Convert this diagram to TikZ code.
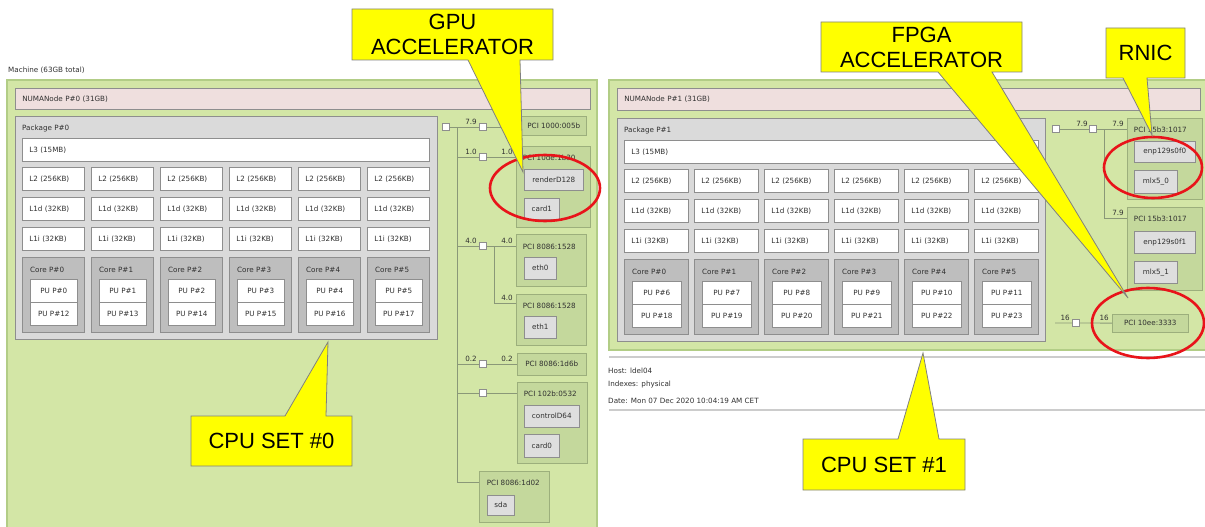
\documentclass[tikz,border=0pt]{standalone}
\usepackage{fontspec}
\usetikzlibrary{positioning,fit}
\newfontfamily\hwfamily{DejaVu Sans}
\newfontfamily\callfamily{Liberation Sans}
\definecolor{machgreen}{HTML}{D3E6A6}
\definecolor{machedge}{HTML}{B2CD86}
\definecolor{numapink}{HTML}{EFDFDE}
\definecolor{pkggray}{HTML}{DADADA}
\definecolor{coregray}{HTML}{BEBEBE}
\definecolor{pcigreen}{HTML}{C4D89C}
\definecolor{pciedge}{HTML}{9CAF7C}
\definecolor{osgray}{HTML}{DEDEDE}
\definecolor{hwedge}{HTML}{8E8E8E}
\definecolor{hwtext}{HTML}{303030}
\definecolor{linkcol}{HTML}{8A9878}
\definecolor{calloutyellow}{HTML}{FFFF00}
\definecolor{ringred}{HTML}{E8141A}
\tikzset{%
    hwfont/.style={font=\hwfamily\fontsize{7.2}{8.6}\selectfont, text=hwtext},
    hwbox/.style={draw=hwedge, line width=0.6pt, inner sep=0pt, hwfont},
    hwlabel/.style={hwfont, inner sep=0pt, anchor=west},
    machine/.style={hwbox, draw=machedge, line width=1.4pt, fill=machgreen},
    numa/.style={hwbox, fill=numapink, anchor=north west, inner xsep=7pt, text width=#1, align=left},
    pkgbox/.style={hwbox, fill=pkggray, anchor=north west},
    cache/.style={hwbox, fill=white, anchor=north west, minimum height=23pt, inner xsep=7pt, text width=#1, align=left},
    corebox/.style={hwbox, fill=coregray, anchor=north west},
    pubox/.style={hwbox, fill=white, anchor=north west, minimum height=22.5pt},
    bridge/.style={hwbox, fill=white, minimum size=6.5pt},
    pcibox/.style={hwbox, draw=pciedge, fill=pcigreen, anchor=north west},
    pcigrp/.style={hwbox, draw=pciedge, fill=pcigreen},
    osdev/.style={hwbox, fill=osgray, anchor=north west, minimum height=21pt},
    link/.style={draw=linkcol, line width=0.8pt},
    speed/.style={hwfont, inner sep=0pt, anchor=south east},
    sepline/.style={draw=black!20, line width=1.6pt},
    ring/.style={draw=ringred, line width=2.6pt},
    callout/.style={fill=calloutyellow, draw=black!50, line width=0.8pt, line join=miter},
    calltext/.style={font=\callfamily\fontsize{22}{25}\selectfont, align=center, inner sep=0pt, text=black}
}
% #1 prefix, #2 x, #3 y, #4 pitch, #5 cache width, #6 package, #7 first PU
\newcommand{\cpupackage}[7]{%
    \pgfmathsetmacro\pkgw{6*#4+8}
    \pgfmathsetmacro\lthreetw{5*#4+#5-14}
    \pgfmathsetmacro\cachetw{#5-14}
    \pgfmathsetmacro\puw{#5-15}
    \begin{scope}[shift={(#2,#3)}]
        \node[pkgbox, minimum width=\pkgw pt, minimum height=223pt] (#1pkg) at (0,0) {};
        \node[hwlabel] (#1pkglbl) at (7,13) {Package P\##6};
        \node[cache=\lthreetw pt] (#1lthree) at (7,22) {L3 (15MB)};
        \foreach \i in {0,...,5} {
            \pgfmathsetmacro\cx{7+#4*\i}
            \pgfmathtruncatemacro\pua{#7+\i}
            \pgfmathtruncatemacro\pub{#7+\i+12}
            \node[cache=\cachetw pt] (#1ltwo\i) at (\cx,51) {L2 (256KB)};
            \node[cache=\cachetw pt] (#1loned\i) at (\cx,81) {L1d (32KB)};
            \node[cache=\cachetw pt] (#1lonei\i) at (\cx,111) {L1i (32KB)};
            \node[corebox, minimum width=#5pt, minimum height=75pt] (#1core\i) at (\cx,141) {};
            \node[hwlabel] (#1corelbl\i) at ([xshift=8pt,yshift=-13pt]#1core\i.north west) {Core P\#\i};
            \node[pubox, minimum width=\puw pt] (#1pua\i) at (\cx+8,163) {PU P\#\pua};
            \node[pubox, minimum width=\puw pt] (#1pub\i) at (#1pua\i.south west) {PU P\#\pub};
        }
    \end{scope}
}

\begin{document}
\begin{tikzpicture}[x=1pt,y=-1pt]
\useasboundingbox (0,0) rectangle (1205,527);
\clip (0,0) rectangle (1205,527);

% machines
\node[machine, fit={(7,80) (597,560)}] (lmach) {};
\node[machine, fit={(609,80) (1215,350)}] (rmach) {};
\node[hwlabel] (machlbl) at (8,70) {Machine (63GB total)};

\node[numa=561pt, minimum height=21pt] (lnuma) at (15,88) {NUMANode P\#0 (31GB)};
\node[numa=569pt, minimum height=22pt] (rnuma) at (617,88) {NUMANode P\#1 (31GB)};

\cpupackage{l}{15}{116}{69}{62}{0}{0}
\cpupackage{r}{617}{118}{70}{64}{1}{6}

% left PCI tree
\node[bridge] (lhb) at (446,127) {};
\node[bridge] (lbr1) at (483,127) {};
\node[bridge] (lbr2) at (483,157) {};
\node[bridge] (lbr3) at (483,246) {};
\node[bridge] (lbr4) at (483,364) {};
\node[bridge] (lbr5) at (483,393) {};
\coordinate (ltrunk) at (457,127);
\coordinate (ltrunkend) at (457,482);
\coordinate (lsub) at (494,246);
\coordinate (lsubend) at (494,303);

\node[pcibox, minimum width=65pt, minimum height=19pt] (lscsi) at (521,116) {PCI 1000:005b};
\node[pcigrp, fit={(516,146) (590,227)}] (lgpu) {};
\node[hwlabel] (lgpulbl) at ([xshift=7pt,yshift=-12pt]lgpu.north west) {PCI 10de:1b30};
\node[osdev, minimum width=59pt] (lrender) at (524,169) {renderD128};
\node[osdev, minimum width=35pt] (lcardone) at (524,198) {card1};
\node[pcigrp, fit={(516,234) (586,286)}] (lethzero) {};
\node[hwlabel] (lethzerolbl) at ([xshift=7pt,yshift=-13pt]lethzero.north west) {PCI 8086:1528};
\node[osdev, minimum width=32pt, minimum height=22pt] (leth0) at (524,257) {eth0};
\node[pcigrp, fit={(516,294) (586,345)}] (lethone) {};
\node[hwlabel] (lethonelbl) at ([xshift=7pt,yshift=-12pt]lethone.north west) {PCI 8086:1528};
\node[osdev, minimum width=32pt, minimum height=22pt] (leth1) at (524,316) {eth1};
\node[pcibox, minimum width=69pt, minimum height=22pt] (lusb) at (517,353) {PCI 8086:1d6b};
\node[pcigrp, fit={(517,382) (587,463)}] (lvga) {};
\node[hwlabel] (lvgalbl) at ([xshift=7pt,yshift=-12pt]lvga.north west) {PCI 102b:0532};
\node[osdev, minimum width=55pt, minimum height=22pt] (lctrl) at (524,405) {controlD64};
\node[osdev, minimum width=35pt, minimum height=23pt] (lcardzero) at (524,434) {card0};
\node[pcigrp, fit={(479,471) (549,522)}] (lsata) {};
\node[hwlabel] (lsatalbl) at ([xshift=8pt,yshift=-12pt]lsata.north west) {PCI 8086:1d02};
\node[osdev, minimum width=27pt, minimum height=20pt] (lsda) at (487,495) {sda};

\draw[link] (lhb) -- (lbr1) -- (lbr1 -| lscsi.west);
\draw[link] (ltrunk) -- (ltrunkend) -- (ltrunkend -| lsata.west);
\draw[link] (ltrunk |- lbr2) -- (lbr2) -- (lbr2 -| lgpu.west);
\draw[link] (ltrunk |- lbr3) -- (lbr3) -- (lbr3 -| lethzero.west);
\draw[link] (lsub) -- (lsubend) -- (lsubend -| lethone.west);
\draw[link] (ltrunk |- lbr4) -- (lbr4) -- (lbr4 -| lusb.west);
\draw[link] (ltrunk |- lbr5) -- (lbr5) -- (lbr5 -| lvga.west);

\node[speed] (lspa) at (477,125) {7.9};
\node[speed] (lspb) at (477,155) {1.0};
\node[speed] (lspc) at (513,155) {1.0};
\node[speed] (lspd) at (477,244) {4.0};
\node[speed] (lspe) at (513,244) {4.0};
\node[speed] (lspf) at (513,301) {4.0};
\node[speed] (lspg) at (477,362) {0.2};
\node[speed] (lsph) at (513,362) {0.2};

% right PCI tree
\node[bridge] (rhb) at (1056,129) {};
\node[bridge] (rbr1) at (1093,129) {};
\node[bridge] (rbr2) at (1076,323) {};
\coordinate (rtrunk) at (1104,129);
\coordinate (rtrunkend) at (1104,218);
\coordinate (rfpgain) at (1055,323);

\node[pcigrp, fit={(1127,118) (1202,199)}] (rniczero) {};
\node[hwlabel] (rniczerolbl) at ([xshift=7pt,yshift=-12pt]rniczero.north west) {PCI 15b3:1017};
\node[osdev, minimum width=61pt] (renpzero) at (1134,141) {enp129s0f0};
\node[osdev, minimum width=43pt, minimum height=23pt] (rmlxzero) at (1134,170) {mlx5\_0};
\node[pcigrp, fit={(1127,207) (1202,290)}] (rnicone) {};
\node[hwlabel] (rniconelbl) at ([xshift=7pt,yshift=-12pt]rnicone.north west) {PCI 15b3:1017};
\node[osdev, minimum width=61pt, minimum height=22pt] (renpone) at (1134,231) {enp129s0f1};
\node[osdev, minimum width=43pt, minimum height=22pt] (rmlxone) at (1134,261) {mlx5\_1};
\node[pcibox, minimum width=76pt, minimum height=18pt] (rfpga) at (1112,314) {PCI 10ee:3333};

\draw[link] (rhb) -- (rbr1) -- (rbr1 -| rniczero.west);
\draw[link] (rtrunk) -- (rtrunkend) -- (rtrunkend -| rnicone.west);
\draw[link] (rfpgain) -- (rbr2) -- (rfpga);

\node[speed] (rspa) at (1088,127) {7.9};
\node[speed] (rspb) at (1124,127) {7.9};
\node[speed] (rspc) at (1124,216) {7.9};
\node[speed] (rspd) at (1070,321) {16};
\node[speed] (rspe) at (1109,321) {16};

% host info
\draw[sepline] (609,357) -- (1215,357);
\draw[sepline] (609,410) -- (1215,410);
\node[hwlabel] (host) at (608,371) {Host: ldel04};
\node[hwlabel] (idx) at (608,385) {Indexes: physical};
\node[hwlabel] (date) at (608,401) {Date: Mon 07 Dec 2020 10:04:19 AM CET};

% highlights
\draw[ring] (545,188) ellipse (55 and 33);
\draw[ring] (1153,167.5) ellipse (49 and 30.5);
\draw[ring] (1148,323) ellipse (56 and 35);

% callouts
\coordinate (gputip) at (523,172);
\coordinate (fpgatip) at (1128,298);
\coordinate (rnictip) at (1152,135);
\coordinate (cpuzerotip) at (328,342);
\coordinate (cpuonetip) at (923,353);

\draw[callout] (352,9) -- (553,9) -- (553,60) -- (520,60) -- (gputip) -- (468,60) -- (352,60) -- cycle;
\node[calltext] (gpulbl) at (452.5,34.5) {GPU\\ACCELERATOR};

\draw[callout] (821,22) -- (1022,22) -- (1022,72) -- (992,72) -- (fpgatip) -- (938,72) -- (821,72) -- cycle;
\node[calltext] (fpgalbl) at (921.5,47) {FPGA\\ACCELERATOR};

\draw[callout] (1106,28) -- (1185,28) -- (1185,78) -- (1147,78) -- (rnictip) -- (1123,78) -- (1106,78) -- cycle;
\node[calltext] (rniclbl) at (1145.5,53) {RNIC};

\draw[callout] (191,416) -- (285,416) -- (cpuzerotip) -- (326,416) -- (352,416) -- (352,466) -- (191,466) -- cycle;
\node[calltext] (cpuzerolbl) at (271.5,441) {CPU SET \#0};

\draw[callout] (803,439) -- (898,439) -- (cpuonetip) -- (939,439) -- (965,439) -- (965,490) -- (803,490) -- cycle;
\node[calltext] (cpuonelbl) at (884,464.5) {CPU SET \#1};
\end{tikzpicture}
\end{document}
